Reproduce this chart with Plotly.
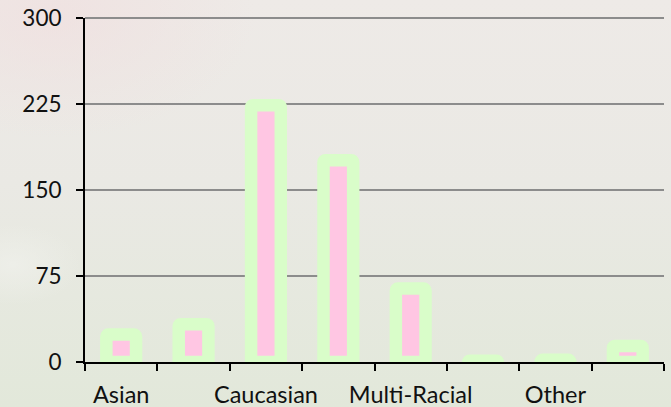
import base64
import plotly.graph_objects as go

categories = ["Asian", "African American", "Caucasian", "Hispanic",
              "Multi-Racial", "Native American", "Other", "Pacific Islander"]
values = [24, 33, 224, 176, 64, 1, 2, 14]
tick_labels = ["Asian", "", "Caucasian", "", "Multi-Racial", "", "Other", ""]
y_ticks = [0, 75, 150, 225, 300]

W, H = 671, 407
ML, MR, MT, MB = 85, 7, 18, 45
PW, PH = W - ML - MR, H - MT - MB

svg = f"""<svg xmlns='http://www.w3.org/2000/svg' width='{W}' height='{H}' viewBox='0 0 {W} {H}' preserveAspectRatio='none'>
<defs>
<linearGradient id='g' x1='0' y1='0' x2='0' y2='1'>
<stop offset='0' stop-color='#eeeae7'/>
<stop offset='0.45' stop-color='#eae9e4'/>
<stop offset='1' stop-color='#e2e8da'/>
</linearGradient>
<radialGradient id='p' cx='0.08' cy='0.04' r='0.3'>
<stop offset='0' stop-color='#f0dfdf' stop-opacity='0.7'/>
<stop offset='1' stop-color='#f0dfdf' stop-opacity='0'/>
</radialGradient>
<radialGradient id='w' cx='0.02' cy='0.65' r='0.1'>
<stop offset='0' stop-color='#f0f1ec' stop-opacity='0.7'/>
<stop offset='1' stop-color='#f0f1ec' stop-opacity='0'/>
</radialGradient>
</defs>
<rect width='{W}' height='{H}' fill='url(#g)'/>
<rect width='{W}' height='{H}' fill='url(#p)'/>
<rect width='{W}' height='{H}' fill='url(#w)'/>
</svg>"""
src = "data:image/svg+xml;base64," + base64.b64encode(svg.encode()).decode()

fig = go.Figure()
fig.add_trace(go.Bar(
    x=categories,
    y=values,
    width=0.41,
    marker=dict(
        color="#ffc6e3",
        line=dict(color="#d9fdc9", width=12.5),
        cornerradius=2,
    ),
    hoverinfo="x+y",
))

# top gridline (Plotly omits the gridline at the range edge)
fig.add_shape(
    type="line", xref="paper", yref="paper",
    x0=0, x1=1, y0=1, y1=1,
    line=dict(color="#8c8c8c", width=2), layer="below",
)

fig.update_layout(
    width=W, height=H,
    margin=dict(l=ML, r=MR, t=MT, b=MB, pad=0, autoexpand=False),
    paper_bgcolor="#ebe9e4",
    plot_bgcolor="rgba(0,0,0,0)",
    showlegend=False,
    font=dict(family="Lato, 'Open Sans', sans-serif", size=22.5, color="#111111"),
    images=[dict(
        source=src, xref="paper", yref="paper",
        x=-ML / PW, y=1 + MT / PH, sizex=W / PW, sizey=H / PH,
        xanchor="left", yanchor="top", sizing="stretch", layer="below",
    )],
    xaxis=dict(
        type="category",
        tickvals=categories,
        ticktext=tick_labels,
        tickson="boundaries",
        ticks="outside",
        ticklen=7,
        tickwidth=2,
        tickcolor="#000000",
        tickangle=0,
        tickfont=dict(size=23.5),
        automargin=False,
        showline=True,
        linecolor="#000000",
        linewidth=2,
        showgrid=False,
        ticklabelstandoff=11,
        range=[-0.5, len(categories) - 0.5],
        fixedrange=True,
    ),
    yaxis=dict(
        range=[0, 300],
        tickvals=y_ticks,
        ticks="outside",
        ticklen=7,
        tickwidth=2,
        tickcolor="#000000",
        automargin=False,
        showline=True,
        linecolor="#000000",
        linewidth=2,
        showgrid=True,
        gridcolor="#8c8c8c",
        gridwidth=2,
        zeroline=False,
        ticklabelstandoff=10,
        fixedrange=True,
    ),
)

fig.write_html(
    "out.html",
    config={"displayModeBar": False},
    post_script="document.body.style.margin='0';document.body.style.overflow='hidden';",
)
